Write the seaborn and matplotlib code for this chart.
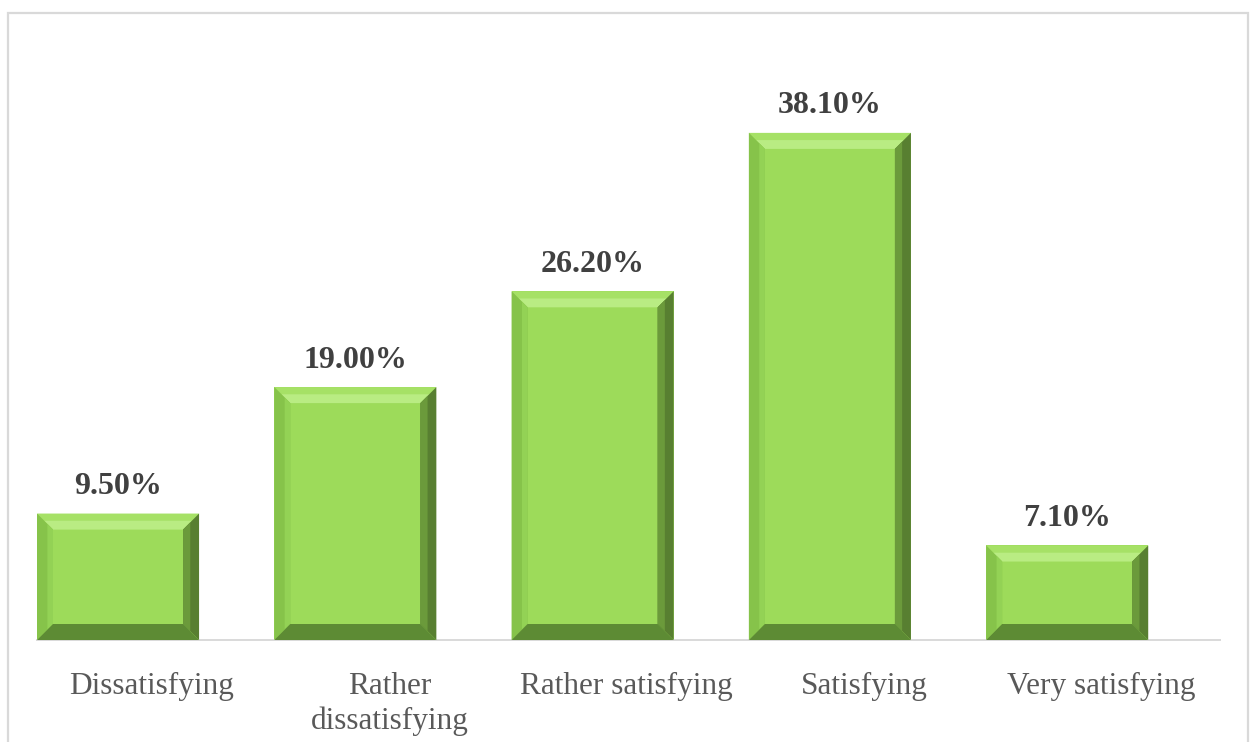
import numpy as np
import pandas as pd
import matplotlib
matplotlib.use("Agg")
import matplotlib.pyplot as plt
import seaborn as sns
from matplotlib.patches import Polygon, Rectangle
from matplotlib.transforms import ScaledTranslation

# Survey results: share of respondents per satisfaction level (%)
categories = ["Dissatisfying", "Rather\ndissatisfying", "Rather satisfying",
              "Satisfying", "Very satisfying"]
shares = [9.5, 19.0, 26.2, 38.1, 7.1]
value_labels = ["9.50%", "19.00%", "26.20%", "38.10%", "7.10%"]

FACE = "#9DDB5A"
TOP = "#A6E166"
TOP_HI = "#B9EC83"
LEFT = "#86C34A"
LEFT_IN = "#93D255"
RIGHT = "#587F31"
RIGHT_IN = "#6B9A3B"
BOTTOM = "#5D8B34"
GRID_GRAY = "#D9D9D9"

sns.set_theme(style="white")
plt.rcParams["font.family"] = ["Liberation Serif", "DejaVu Serif"]

W, H = 1255, 742
fig = plt.figure(figsize=(W / 100, H / 100), dpi=100)
ax = fig.add_axes([37 / W, 1 - 640 / H, (1220 - 37) / W, (640 - 100) / H])

df = pd.DataFrame({"category": categories, "share": shares})
sns.barplot(data=df, x="category", y="share", color=FACE, saturation=1,
            width=0.683, ax=ax, linewidth=0)
ax.set_xlim(-0.3415, 4.644)
ax.set_ylim(0, 40.57)

# Bevel edges on each bar, built in pixel space from the bar geometry
bevel = 16
fig.canvas.draw()
to_px = ax.transData
to_data = ax.transData.inverted()
for rect in ax.patches:
    x0, y0 = rect.get_x(), rect.get_y()
    x1, y1 = x0 + rect.get_width(), y0 + rect.get_height()
    (px0, py0), (px1, py1) = to_px.transform([(x0, y0), (x1, y1)])
    b = min(bevel, (py1 - py0) / 2.5)
    ix0, ix1, iy0, iy1 = px0 + b, px1 - b, py0 + b, py1 - b
    h = 0.55  # fraction of the bevel taken by the inner highlight bands
    shapes = [
        ([(px0, py1), (px1, py1), (ix1, iy1), (ix0, iy1)], TOP),
        ([(ix0 - b * h, iy1 + b * h), (ix1 + b * h, iy1 + b * h),
          (ix1, iy1), (ix0, iy1)], TOP_HI),
        ([(px0, py0), (px0, py1), (ix0, iy1), (ix0, iy0)], LEFT),
        ([(ix0 - b * 0.35, iy0 - b * 0.35), (ix0 - b * 0.35, iy1 + b * 0.35),
          (ix0, iy1), (ix0, iy0)], LEFT_IN),
        ([(px1, py0), (px1, py1), (ix1, iy1), (ix1, iy0)], RIGHT),
        ([(ix1 + b * 0.45, iy0 - b * 0.45), (ix1 + b * 0.45, iy1 + b * 0.45),
          (ix1, iy1), (ix1, iy0)], RIGHT_IN),
        ([(px0, py0), (px1, py0), (ix1, iy0), (ix0, iy0)], BOTTOM),
    ]
    for pts, col in shapes:
        ax.add_patch(Polygon(to_data.transform(pts), closed=True,
                             facecolor=col, edgecolor="none", zorder=3))

ax.bar_label(ax.containers[0], labels=value_labels, padding=9,
             fontsize=23, fontweight="bold", color="#404040")

for side in ["top", "left", "right"]:
    ax.spines[side].set_visible(False)
ax.spines["bottom"].set_color(GRID_GRAY)
ax.spines["bottom"].set_linewidth(1.4)
ax.set_yticks([])
ax.set_xlabel("")
ax.set_ylabel("")
ax.tick_params(axis="x", length=0, pad=23, labelsize=22.5, labelcolor="#595959")
shift = ScaledTranslation(34 / 100, 0, fig.dpi_scale_trans)
for lab in ax.get_xticklabels():
    lab.set_linespacing(1.25)
    lab.set_transform(lab.get_transform() + shift)

# Light chart-area frame
fig.add_artist(Rectangle((8 / W, -0.05), (1248 - 8) / W, 1 - 13 / H + 0.05,
                         transform=fig.transFigure, fill=False,
                         edgecolor=GRID_GRAY, linewidth=1.6, clip_on=False))

fig.savefig("out.png", dpi=100, facecolor="white")
